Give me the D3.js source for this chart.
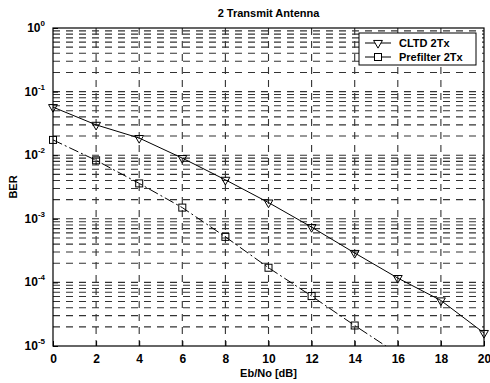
<!DOCTYPE html>
<html>
<head>
<meta charset="utf-8">
<script src="https://cdn.jsdelivr.net/npm/d3@7"></script>
<style>
  body { margin: 0; background: #fff; }
  svg { font-family: "Liberation Sans", Arial, sans-serif; }
</style>
</head>
<body>
<div id="chart"></div>
<script>
// data
const ebno = [0, 2, 4, 6, 8, 10, 12, 14, 16, 18, 20];
const cltd = [0.057, 0.030, 0.0186, 0.009, 0.0041, 0.0018, 0.00074, 0.00029, 0.000117, 0.000052, 0.000016];
const prefEbno = [0, 2, 4, 6, 8, 10, 12, 14, 16];
const prefilter = [0.0174, 0.0083, 0.0036, 0.0015, 0.00052, 0.00017, 0.000061, 0.000021, 0.0000075];
const xTicks = [0, 2, 4, 6, 8, 10, 12, 14, 16, 18, 20];
const yDecades = [0, -1, -2, -3, -4, -5];

const W = 490, H = 383;
const margin = {top: 28, right: 6, bottom: 37, left: 53};
const width = W - margin.left - margin.right;
const height = H - margin.top - margin.bottom;

const svg = d3.select("#chart").append("svg")
    .attr("width", W)
    .attr("height", H);

const g = svg.append("g")
    .attr("transform", "translate(" + margin.left + "," + margin.top + ")");

const x = d3.scaleLinear().domain([0, 20]).range([0, width]);
const y = d3.scaleLog().domain([1e-5, 1]).range([height, 0]);

svg.append("defs").append("clipPath").attr("id", "clip")
  .append("rect").attr("width", width).attr("height", height);

// grid (scanned dotted grid looks dashed)
const grid = g.append("g")
    .attr("stroke", "#333")
    .attr("stroke-width", 1.1)
    .attr("stroke-dasharray", "7,6");

const minorY = [];
for (let e = -5; e < 0; e++) {
  for (let m = 1; m < 10; m++) minorY.push(m * Math.pow(10, e));
}
grid.selectAll("line.h")
  .data(minorY.filter(v => v > 1e-5))
  .enter().append("line")
    .attr("x1", 0).attr("x2", width)
    .attr("y1", d => y(d)).attr("y2", d => y(d));

grid.selectAll("line.v")
  .data(xTicks.slice(1, -1))
  .enter().append("line")
    .attr("y1", 0).attr("y2", height)
    .attr("x1", d => x(d)).attr("x2", d => x(d));

// axes box
g.append("rect")
    .attr("width", width).attr("height", height)
    .attr("fill", "none").attr("stroke", "#000").attr("stroke-width", 1.2);

const xAxis = g.append("g")
    .attr("transform", "translate(0," + height + ")")
    .call(d3.axisBottom(x).tickValues(xTicks).tickSize(-5).tickPadding(8));
xAxis.select(".domain").remove();
xAxis.selectAll("text")
    .attr("font-size", 12).attr("font-weight", "bold").attr("fill", "#000")
    .attr("font-family", "Liberation Sans, Arial, sans-serif");

const yAxis = g.append("g")
    .call(d3.axisLeft(y).tickValues(yDecades.map(e => Math.pow(10, e))).tickSize(-5).tickFormat(""));
yAxis.select(".domain").remove();

const yLab = g.append("g").selectAll("text")
  .data(yDecades)
  .enter().append("text")
    .attr("x", -8)
    .attr("y", d => y(Math.pow(10, d)) + 4)
    .attr("text-anchor", "end")
    .attr("font-size", 12).attr("font-weight", "bold");
yLab.append("tspan").text("10");
yLab.append("tspan")
    .attr("dy", -6).attr("font-size", 8)
    .text(d => d);

// series
const plot = g.append("g").attr("clip-path", "url(#clip)");

const line = d3.line().x(d => x(d[0])).y(d => y(d[1]));

const cltdPts = ebno.map((v, i) => [v, cltd[i]]);
const prefPts = prefEbno.map((v, i) => [v, prefilter[i]]);
const inRange = d => d[1] >= 1e-5 && d[1] <= 1;

plot.append("path")
    .datum(cltdPts)
    .attr("d", line)
    .attr("fill", "none").attr("stroke", "#000").attr("stroke-width", 1);

plot.append("path")
    .datum(prefPts)
    .attr("d", line)
    .attr("fill", "none").attr("stroke", "#000").attr("stroke-width", 1)
    .attr("stroke-dasharray", "10,3,2,3");

// markers are not clipped (as in the original figure)
const tri = d3.symbol().type(d3.symbolTriangle).size(34);
g.selectAll("path.tri")
  .data(cltdPts.filter(inRange))
  .enter().append("path")
    .attr("class", "tri")
    .attr("d", tri)
    .attr("transform", d => "translate(" + x(d[0]) + "," + y(d[1]) + ") rotate(180)")
    .attr("fill", "none").attr("stroke", "#000").attr("stroke-width", 1);

g.selectAll("rect.sq")
  .data(prefPts.filter(inRange))
  .enter().append("rect")
    .attr("class", "sq")
    .attr("x", d => x(d[0]) - 3.5).attr("y", d => y(d[1]) - 3.5)
    .attr("width", 7).attr("height", 7)
    .attr("fill", "none").attr("stroke", "#000").attr("stroke-width", 1);

// legend
const legend = g.append("g").attr("transform", "translate(306,5)");
legend.append("rect")
    .attr("width", 117).attr("height", 32)
    .attr("fill", "#fff").attr("stroke", "#000").attr("stroke-width", 1);
legend.append("line").attr("x1", 6).attr("x2", 32).attr("y1", 10).attr("y2", 10)
    .attr("stroke", "#000");
legend.append("path").attr("d", tri)
    .attr("transform", "translate(19,10) rotate(180)")
    .attr("fill", "#fff").attr("stroke", "#000");
legend.append("line").attr("x1", 6).attr("x2", 32).attr("y1", 24).attr("y2", 24)
    .attr("stroke", "#000");
legend.append("rect").attr("x", 15.5).attr("y", 20.5).attr("width", 7).attr("height", 7)
    .attr("fill", "#fff").attr("stroke", "#000");
legend.append("text").attr("x", 40).attr("y", 14)
    .attr("font-size", 11).attr("font-weight", "bold").text("CLTD 2Tx");
legend.append("text").attr("x", 40).attr("y", 28)
    .attr("font-size", 11).attr("font-weight", "bold").text("Prefilter 2Tx");

// titles
svg.append("text")
    .attr("x", margin.left + width / 2).attr("y", 17)
    .attr("text-anchor", "middle")
    .attr("font-size", 11).attr("font-weight", "bold")
    .text("2 Transmit Antenna");

svg.append("text")
    .attr("x", margin.left + width / 2).attr("y", 377)
    .attr("text-anchor", "middle")
    .attr("font-size", 11).attr("font-weight", "bold")
    .text("Eb/No [dB]");

svg.append("text")
    .attr("transform", "translate(17," + (margin.top + height / 2) + ") rotate(-90)")
    .attr("text-anchor", "middle")
    .attr("font-size", 11).attr("font-weight", "bold")
    .text("BER");
</script>
</body>
</html>
